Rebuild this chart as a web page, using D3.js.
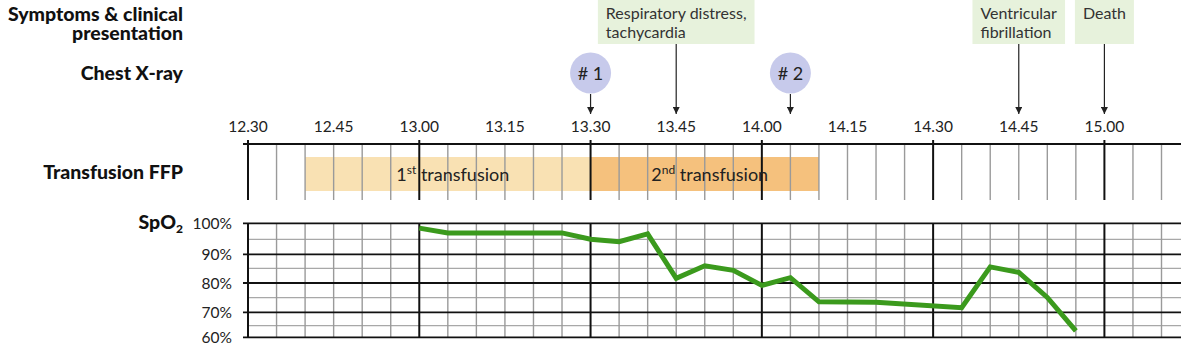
<!DOCTYPE html>
<html>
<head>
<meta charset="utf-8">
<script src="https://cdn.jsdelivr.net/npm/d3@7"></script>
<style>
  html, body { margin: 0; padding: 0; background: #fff; }
  svg { display: block; font-family: Lato, "Open Sans", sans-serif; }
</style>
</head>
<body>
<svg id="chart" width="1181" height="346"></svg>
<script>
// ---- data ----
const tickLabels = ["12.30", "12.45", "13.00", "13.15", "13.30", "13.45", "14.00", "14.15", "14.30", "14.45", "15.00"];
const gridStart = "12.30";
const gridEnd = "15.10";

const rowLabels = ["Symptoms & clinical", "presentation"];

const eventTimes = ["13.45", "14.45", "15.00"];
const eventTexts = [["Respiratory distress,", "tachycardia"], ["Ventricular", "fibrillation"], ["Death"]];

const xrayTimes = ["13.30", "14.05"];
const xrayLabels = ["# 1", "# 2"];

const transfusionStarts = ["12.40", "13.30"];
const transfusionEnds = ["13.30", "14.10"];
const transfusionOrdinals = ["1", "2"];
const transfusionSuffixes = ["st", "nd"];

const spo2Ticks = [100, 90, 80, 70, 60];
const spo2Minor = [95, 85, 75, 65];
const spo2Times = ["13.00", "13.05", "13.10", "13.15", "13.20", "13.25", "13.30", "13.35", "13.40", "13.45",
                   "13.50", "13.55", "14.00", "14.05", "14.10", "14.20", "14.35", "14.40", "14.45", "14.50", "14.55"];
const spo2Values = [98.5, 97, 97, 97, 97, 97, 95, 94.2, 96.7, 81.6,
                    85.9, 84.3, 79.2, 81.8, 73.6, 73.4, 71.6, 85.5, 83.6, 75.1, 62.8];

// ---- helpers ----
const toMin = s => { const [h, m] = s.split(".").map(Number); return h * 60 + m; };

const svg = d3.select("#chart");
const W = 1181;

const x = d3.scaleLinear().domain([toMin(gridStart), toMin(gridEnd)]).range([248, 1161.5]);
const gridMinutes = d3.range(toMin(gridStart), toMin(gridEnd) + 1, 5);
const isMajor = m => m % 30 === 0;

// SpO2 scale: the printed grid is slightly compressed towards the bottom
const y = d3.scaleLinear()
  .domain([60, 65, 70, 75, 80, 85, 90, 95, 100])
  .range([337.3, 325.7, 312.3, 297.7, 283, 268.3, 254.3, 239.3, 223.3]);

const labelRight = 183;
const darkText = "#111";

// ---- left row labels ----
const lab = svg.append("g").attr("font-weight", 900).attr("font-size", 19.5)
  .attr("fill", darkText).attr("text-anchor", "end");
lab.append("text").attr("x", labelRight).attr("y", 21).text(rowLabels[0]);
lab.append("text").attr("x", labelRight).attr("y", 40).text(rowLabels[1]);
lab.append("text").attr("x", labelRight).attr("y", 80).text("Chest X-ray");
lab.append("text").attr("x", labelRight).attr("y", 178.5).text("Transfusion FFP");
const spo = lab.append("text").attr("x", labelRight).attr("y", 228.5);
spo.append("tspan").text("SpO");
spo.append("tspan").attr("font-size", 12).attr("dy", 4).text("2");

// ---- arrow marker ----
svg.append("defs").append("marker")
  .attr("id", "arrow").attr("viewBox", "0 0 10 10")
  .attr("refX", 10).attr("refY", 5)
  .attr("markerWidth", 7).attr("markerHeight", 7)
  .attr("markerUnits", "userSpaceOnUse")
  .attr("orient", "auto")
  .append("path").attr("d", "M0,0 L10,5 L0,10 Z").attr("fill", "#222");

const arrowTip = 114;

// ---- event boxes ----
const evG = svg.append("g");
eventTimes.forEach((t, i) => {
  const cx = x(toMin(t));
  const g = evG.append("g");
  const rect = g.append("rect").attr("fill", "#e7f2dc");
  const txt = g.append("text").attr("font-size", 16).attr("fill", "#333");
  eventTexts[i].forEach((line, j) => {
    txt.append("tspan").attr("x", 0).attr("y", 19 + j * 19).text(line);
  });
  const bb = txt.node().getBBox();
  const pad = 8;
  const bw = bb.width + pad * 2;
  const left = cx - bw / 2;
  txt.attr("transform", `translate(${left + pad},0)`);
  rect.attr("x", left).attr("y", 0).attr("width", bw).attr("height", 44);
  g.append("line").attr("x1", cx).attr("x2", cx).attr("y1", 44).attr("y2", arrowTip)
    .attr("stroke", "#222").attr("stroke-width", 1.2).attr("marker-end", "url(#arrow)");
});

// ---- chest x-ray markers ----
xrayTimes.forEach((t, i) => {
  const cx = x(toMin(t));
  svg.append("circle").attr("cx", cx).attr("cy", 73).attr("r", 20.5).attr("fill", "#c7caeb");
  svg.append("text").attr("x", cx).attr("y", 79.5).attr("text-anchor", "middle")
    .attr("font-size", 18).attr("fill", "#222").text(xrayLabels[i]);
  svg.append("line").attr("x1", cx).attr("x2", cx).attr("y1", 94).attr("y2", arrowTip)
    .attr("stroke", "#222").attr("stroke-width", 1.2).attr("marker-end", "url(#arrow)");
});

// ---- time axis ----
svg.append("g").attr("font-size", 15.5).attr("fill", "#222").attr("text-anchor", "middle")
  .selectAll("text").data(tickLabels).join("text")
  .attr("x", d => x(toMin(d))).attr("y", 132).text(d => d);

// ---- transfusion row ----
const trG = svg.append("g");
const bandColors = ["#f9e1b3", "#f5c17d"];
transfusionStarts.forEach((s, i) => {
  trG.append("rect")
    .attr("x", x(toMin(s))).attr("y", 157)
    .attr("width", x(toMin(transfusionEnds[i])) - x(toMin(s))).attr("height", 34)
    .attr("fill", bandColors[i]);
});
trG.selectAll("line.v").data(gridMinutes).join("line")
  .attr("x1", d => x(d)).attr("x2", d => x(d))
  .attr("y1", d => isMajor(d) ? 140 : 144).attr("y2", 200)
  .attr("stroke", d => isMajor(d) ? "#111" : "#9a9a9a")
  .attr("stroke-width", d => isMajor(d) ? 2 : 1.4);
trG.append("line").attr("x1", 243).attr("x2", W).attr("y1", 144).attr("y2", 144)
  .attr("stroke", "#111").attr("stroke-width", 1.8);
transfusionStarts.forEach((s, i) => {
  const cx = (x(toMin(s)) + x(toMin(transfusionEnds[i]))) / 2 + 5;
  const t = trG.append("text").attr("x", cx).attr("y", 180.5).attr("text-anchor", "middle")
    .attr("font-size", 18).attr("fill", "#222");
  t.append("tspan").text(transfusionOrdinals[i]);
  t.append("tspan").attr("font-size", 12).attr("dy", -7).text(transfusionSuffixes[i]);
  t.append("tspan").attr("dy", 7).text(" transfusion");
});

// ---- SpO2 grid ----
const spG = svg.append("g");
spG.selectAll("line.minor-h").data(spo2Minor).join("line")
  .attr("x1", 248).attr("x2", W).attr("y1", d => y(d)).attr("y2", d => y(d))
  .attr("stroke", "#a8a8a8").attr("stroke-width", 1.3);
spG.selectAll("line.v").data(gridMinutes).join("line")
  .attr("x1", d => x(d)).attr("x2", d => x(d))
  .attr("y1", y(100)).attr("y2", y(60))
  .attr("stroke", d => isMajor(d) ? "#111" : "#9a9a9a")
  .attr("stroke-width", d => isMajor(d) ? 2 : 1.4);
spG.selectAll("line.major-h").data(spo2Ticks).join("line")
  .attr("x1", 243).attr("x2", W).attr("y1", d => y(d)).attr("y2", d => y(d))
  .attr("stroke", "#111").attr("stroke-width", 1.8);
spG.selectAll("text").data(spo2Ticks).join("text")
  .attr("x", 232).attr("y", d => y(d) + 5.5).attr("text-anchor", "end")
  .attr("font-size", 15.5).attr("fill", "#222").text(d => d + "%");

// ---- SpO2 trace ----
const pts = spo2Times.map((t, i) => [toMin(t), spo2Values[i]]);
svg.append("path").datum(pts)
  .attr("fill", "none").attr("stroke", "#3b9a1d").attr("stroke-width", 5)
  .attr("stroke-linejoin", "miter")
  .attr("d", d3.line().x(d => x(d[0])).y(d => y(d[1])));
</script>
</body>
</html>
